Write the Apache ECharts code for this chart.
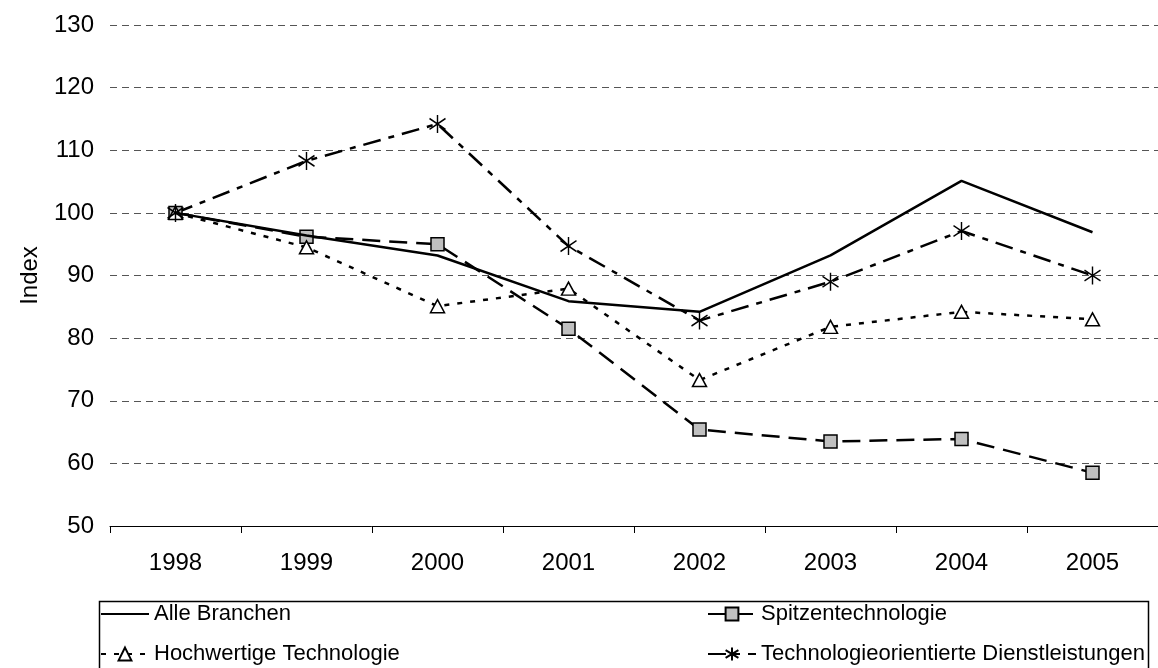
<!DOCTYPE html>
<html lang="de">
<head>
  <meta charset="UTF-8">
  <title>Index Branchen</title>
  <script src="https://cdn.jsdelivr.net/npm/echarts@6/dist/echarts.min.js"></script>
  <style>
    html, body { margin: 0; padding: 0; background: #fff; }
    #main { width: 1158px; height: 668px; }
  </style>
</head>
<body>
<div id="main"></div>
<script>
  var years = ['1998', '1999', '2000', '2001', '2002', '2003', '2004', '2005'];
  var alleBranchen = [100, 96.4, 93.2, 85.9, 84.2, 93.2, 105.1, 96.9];
  var spitzentechnologie = [100, 96.2, 95.0, 81.5, 65.4, 63.5, 63.9, 58.5];
  var hochwertigeTechnologie = [100, 94.5, 85.1, 87.9, 73.3, 81.8, 84.2, 83.0];
  var dienstleistungen = [100, 108.3, 114.2, 94.7, 82.8, 89.0, 97.1, 90.0];

  var fontName = 'Liberation Sans, Arial, sans-serif';
  var fs = 24;      // axis text
  var legendFs = 22;
  // asterisk marker, drawn as strokes
  var asterisk = 'path://M0 0 L0 20 M-8 4 L8 16 M-8 16 L8 4';

  // one legend per entry so each can sit in its own cell of the box
  function legendAt(name, left, top, extra) {
    var item = { name: name };
    if (extra) item.itemStyle = extra;
    return {
      left: left,
      top: top,
      itemWidth: 48,
      itemHeight: 16,
      padding: 0,
      textStyle: { fontSize: legendFs, color: '#000', fontFamily: fontName, lineHeight: 24 },
      data: [item]
    };
  }

  var myChart = echarts.init(document.getElementById('main'));
  myChart.setOption({
    backgroundColor: '#fff',
    animation: false,
    textStyle: { fontFamily: fontName },
    grid: { left: 110, right: -12, top: 25, bottom: 142 },
    legend: [
      legendAt('Alle Branchen', 100, 602, { opacity: 0 }),
      legendAt('Hochwertige Technologie', 100, 642),
      legendAt('Spitzentechnologie', 707, 602),
      legendAt('Technologieorientierte Dienstleistungen', 707, 642)
    ],
    graphic: [{
      type: 'rect',
      left: 97,
      top: 599,
      shape: { width: 1049, height: 90 },
      style: { fill: 'none', stroke: '#000', lineWidth: 1.5 },
      silent: true
    }],
    xAxis: {
      type: 'category',
      data: years,
      boundaryGap: true,
      axisLine: { lineStyle: { color: '#000', width: 1 } },
      axisTick: { show: true, length: 7, lineStyle: { color: '#000' } },
      axisLabel: { fontSize: fs, color: '#000', margin: 25 },
      splitLine: { show: false }
    },
    yAxis: {
      type: 'value',
      min: 50,
      max: 130,
      interval: 10,
      name: 'Index',
      nameLocation: 'middle',
      nameGap: 68,
      nameTextStyle: { fontSize: fs, color: '#000' },
      axisLine: { show: false },
      axisTick: { show: false },
      axisLabel: { fontSize: fs, color: '#000', margin: 16 },
      splitLine: { lineStyle: { color: '#555', type: [7, 5], width: 1 } }
    },
    series: [
      {
        name: 'Alle Branchen',
        type: 'line',
        data: alleBranchen,
        symbol: 'none',
        lineStyle: { color: '#000', width: 2.5 },
        itemStyle: { color: '#000' },
        z: 5
      },
      {
        name: 'Spitzentechnologie',
        type: 'line',
        data: spitzentechnologie,
        symbol: 'rect',
        symbolSize: 13,
        lineStyle: { color: '#000', width: 2.5, type: [18, 9] },
        itemStyle: { color: '#c0c0c0', borderColor: '#000', borderWidth: 1.5 }
      },
      {
        name: 'Hochwertige Technologie',
        type: 'line',
        data: hochwertigeTechnologie,
        symbol: 'triangle',
        symbolSize: [14, 13],
        lineStyle: { color: '#000', width: 2.5, type: [5, 8] },
        itemStyle: { color: '#fff', borderColor: '#000', borderWidth: 1.5 }
      },
      {
        name: 'Technologieorientierte Dienstleistungen',
        type: 'line',
        data: dienstleistungen,
        symbol: asterisk,
        symbolSize: [16, 18],
        lineStyle: { color: '#000', width: 2.5, type: [18, 8, 6, 8] },
        itemStyle: { color: '#000', borderColor: '#000', borderWidth: 1.5 }
      }
    ]
  });
</script>
</body>
</html>
